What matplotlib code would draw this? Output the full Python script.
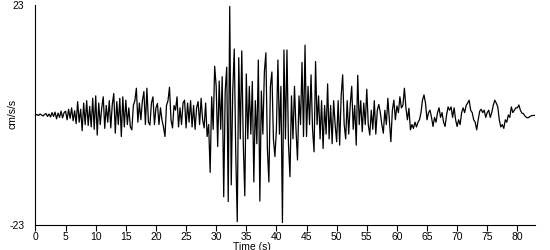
import numpy as np
import matplotlib
matplotlib.use("Agg")
import matplotlib.pyplot as plt

# acceleration record, one value every 0.25 s (cm/s/s)
dt = 0.25
acc_00_05 = [0, 0.1, -0.1, 0.2, 0, -0.2, 0.1, 0.3, -0.3, 0.2,
             -0.4, 0.5, -0.3, 0.6, -0.8, 0.4, -0.5, 0.8, -0.6, 0.5]
acc_05_10 = [0.8, -1, 1.2, -0.7, 1.5, -1.2, 0.9, -1.8, 2.8, -1.5,
             1.2, -3.3, 2.5, -2, 3, -2.2, 1.8, -2.5, 3.5, -3]
acc_10_15 = [4, -4.2, 2.5, -2, 1.5, 3.8, -2.8, 2, -1.5, 3,
             -2.7, 2.2, 4.5, -3.8, 2.8, -2, 3.5, -4.5, 3.8, -2.5]
acc_15_20 = [3.1, -2, 1.5, -2.5, -3.1, 2, 3, 5.6, -1.5, 2.5,
             -1, 3, 4.9, -2, 5.6, -1.5, -2.1, 2.5, 3.8, -2]
acc_20_25 = [1.5, 2.4, -2, 1.5, -1, -2.5, -4.5, 2, 3, 5.8,
             -1, -2.7, 2, 1, 3.8, -2.5, 1.5, -2, 2.5, 3.1]
acc_25_30 = [-2.7, 2.5, -1.5, 3, -2.5, 2, -3, 1.5, 2.8, -2,
             3.5, -1, -2.7, 2.5, -4.5, -2, -12, 3.8, -3, 10.2]
acc_30_35 = [6, -6.6, 7.1, -3, 8, -17.1, 5, 10, -18.1, 22.7,
             -14.6, 5, 13.8, -8, -22.3, 12, -5, 13.4, -6, -16.9]
acc_35_40 = [8.6, -5, 6, -4, 7, -14, 3, -6, 11.5, -18,
             5, -4, 9, 13, -7, -14, 6, 9, -5, -8.7]
acc_40_45 = [-3, 11.5, -4, 6, -22.5, 13.6, -5, 13.6, -6, -12.9,
             4, -5, 6, -3, -9.4, 4, -2, 11, -4.5, 14.6]
acc_45_50 = [-4.5, 6, -2, 8.4, -3, -7.7, 11.2, -2, 4, -5,
             3, -7, 2, -4, 6.5, -5, 2, -6, 3, -2]
acc_50_55 = [-5.6, 3, -6.3, 4, 8.4, -2, -5, 3, -4, 2,
             6, -3, 2, -6.3, 8.3, -2, 3, -3.5, 2.5, -2]
acc_55_60 = [5.4, -2, -4.2, 1, -3, 3, -4, 1, 2.2, 0.5,
             -2, -3.8, 1, -2, 3.5, -1, -5.6, 1, 3.1, -1]
acc_60_65 = [1.9, 0.5, 3.8, 1.5, 2, 5.6, 1.5, -1, 1.4, -3.1,
             -2, -2.8, -1.5, -2.5, -1.5, -1, 0.5, 3.1, 4.2, 2.5]
acc_65_70 = [-1, 0.5, 1, -0.5, -2.4, -0.5, -1.5, 0.5, 1.5, -0.5,
             0.5, -1.5, -2.4, 0, 1.7, 1, 1.7, -0.5, 1.5, -1]
acc_70_75 = [-2.4, -1, -2, 0.5, 1.5, 0.5, 2, 2.5, 3.1, 1,
             0.5, -1, -1.5, -3.1, -1, 0.8, 1.2, 0.5, 1, -0.5]
acc_75_80 = [0.5, 1, -0.5, 0.5, 2, 3.1, 2.5, 1.7, -1, -2.5,
             -2, -2.8, -1, -1.5, 0, -0.5, 1.7, 0.5, 1, 1.5]
acc_80_83 = [1.5, 2.1, 1, 0.4, 0.3, -0.2, -0.5, -0.6, -0.4, -0.2,
             -0.1, -0.1, -0.1]

acc = np.array(acc_00_05 + acc_05_10 + acc_10_15 + acc_15_20 + acc_20_25
               + acc_25_30 + acc_30_35 + acc_35_40 + acc_40_45 + acc_45_50
               + acc_50_55 + acc_55_60 + acc_60_65 + acc_65_70 + acc_70_75
               + acc_75_80 + acc_80_83)
t = np.arange(len(acc)) * dt

x_ticks = list(range(0, 81, 5))
y_ticks = [-23, 23]

plt.rcParams['font.family'] = ['Liberation Sans', 'DejaVu Sans']

fig = plt.figure(figsize=(5.5, 2.5), dpi=100)
ax = fig.add_axes([0.0645, 0.10, 0.909, 0.88])
ax.plot(t, acc, color='black', lw=0.9)

ax.set_xlim(0, 83)
ax.set_ylim(-23, 23)
ax.set_xticks(x_ticks)
ax.set_yticks(y_ticks)
ax.set_yticklabels([str(v) for v in y_ticks])
ax.tick_params(axis='x', length=4, width=0.8, pad=1, labelsize=7.5)
ax.tick_params(axis='y', length=0, pad=8, labelsize=7.5)

for s in ['top', 'right']:
    ax.spines[s].set_visible(False)
for s in ['left', 'bottom']:
    ax.spines[s].set_linewidth(0.8)

ax.set_xlabel('Time (s)', fontsize=7.5, labelpad=0)
ax.xaxis.set_label_coords(0.433, -0.075)
ax.set_ylabel('cm/s/s', fontsize=7.5)
ax.yaxis.set_label_coords(-0.035, 0.505)

fig.savefig('out.png', dpi=100)
